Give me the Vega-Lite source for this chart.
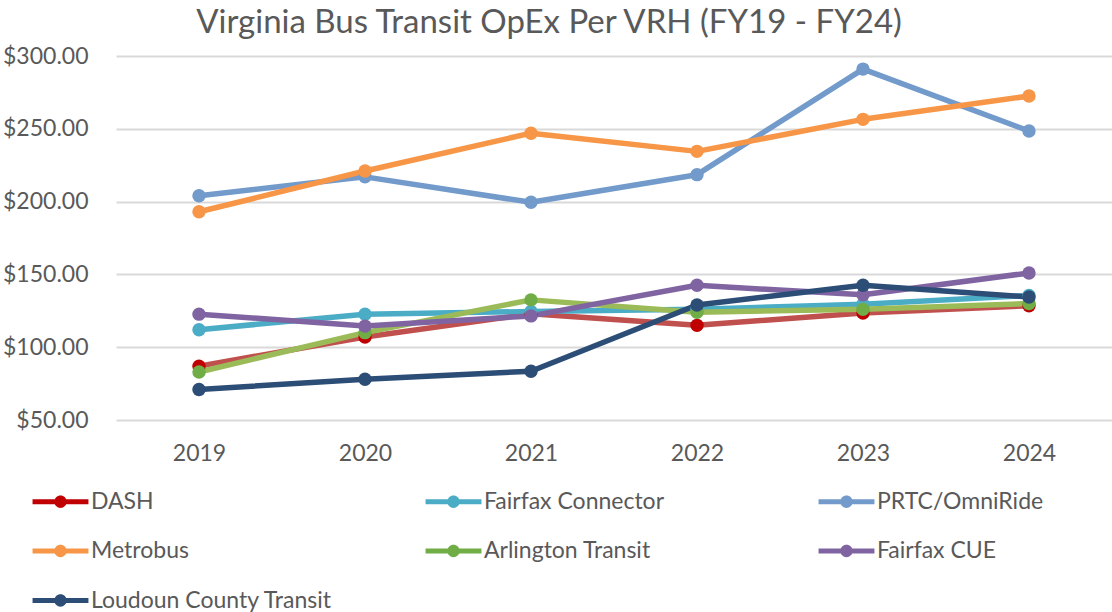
{
  "$schema": "https://vega.github.io/schema/vega-lite/v6.json",
  "autosize": "none",
  "width": 996,
  "height": 364,
  "padding": {"left": 116, "top": 56, "right": 0, "bottom": 192},
  "background": "white",
  "title": {
    "text": "Virginia Bus Transit OpEx Per VRH (FY19 - FY24)",
    "font": "Lato",
    "fontSize": 33,
    "fontWeight": "normal",
    "color": "#595959",
    "anchor": "middle",
    "dx": -65,
    "offset": 5
  },
  "config": {
    "view": {"stroke": null},
    "font": "Lato"
  },
  "data": {
    "values": [
      {"series": "DASH", "year": "2019", "value": 87},
      {"series": "DASH", "year": "2020", "value": 107},
      {"series": "DASH", "year": "2021", "value": 123},
      {"series": "DASH", "year": "2022", "value": 115},
      {"series": "DASH", "year": "2023", "value": 123.5},
      {"series": "DASH", "year": "2024", "value": 128.5},
      {"series": "Fairfax Connector", "year": "2019", "value": 112},
      {"series": "Fairfax Connector", "year": "2020", "value": 122.7},
      {"series": "Fairfax Connector", "year": "2021", "value": 124.5},
      {"series": "Fairfax Connector", "year": "2022", "value": 126},
      {"series": "Fairfax Connector", "year": "2023", "value": 129.5},
      {"series": "Fairfax Connector", "year": "2024", "value": 135.5},
      {"series": "PRTC/OmniRide", "year": "2019", "value": 204},
      {"series": "PRTC/OmniRide", "year": "2020", "value": 217},
      {"series": "PRTC/OmniRide", "year": "2021", "value": 199.5},
      {"series": "PRTC/OmniRide", "year": "2022", "value": 218.5},
      {"series": "PRTC/OmniRide", "year": "2023", "value": 291},
      {"series": "PRTC/OmniRide", "year": "2024", "value": 248.5},
      {"series": "Metrobus", "year": "2019", "value": 193},
      {"series": "Metrobus", "year": "2020", "value": 221},
      {"series": "Metrobus", "year": "2021", "value": 247},
      {"series": "Metrobus", "year": "2022", "value": 234.5},
      {"series": "Metrobus", "year": "2023", "value": 256.5},
      {"series": "Metrobus", "year": "2024", "value": 272.5},
      {"series": "Arlington Transit", "year": "2019", "value": 83},
      {"series": "Arlington Transit", "year": "2020", "value": 110},
      {"series": "Arlington Transit", "year": "2021", "value": 132.5},
      {"series": "Arlington Transit", "year": "2022", "value": 124},
      {"series": "Arlington Transit", "year": "2023", "value": 126},
      {"series": "Arlington Transit", "year": "2024", "value": 130},
      {"series": "Fairfax CUE", "year": "2019", "value": 122.7},
      {"series": "Fairfax CUE", "year": "2020", "value": 114.5},
      {"series": "Fairfax CUE", "year": "2021", "value": 121.5},
      {"series": "Fairfax CUE", "year": "2022", "value": 142.5},
      {"series": "Fairfax CUE", "year": "2023", "value": 136},
      {"series": "Fairfax CUE", "year": "2024", "value": 151},
      {"series": "Loudoun County Transit", "year": "2019", "value": 71},
      {"series": "Loudoun County Transit", "year": "2020", "value": 78},
      {"series": "Loudoun County Transit", "year": "2021", "value": 83.5},
      {"series": "Loudoun County Transit", "year": "2022", "value": 129},
      {"series": "Loudoun County Transit", "year": "2023", "value": 142.5},
      {"series": "Loudoun County Transit", "year": "2024", "value": 134.5}
    ]
  },
  "encoding": {
    "x": {
      "field": "year",
      "type": "ordinal",
      "scale": {"type": "point", "padding": 0.5},
      "axis": {
        "title": null,
        "labelAngle": 0,
        "domain": false,
        "ticks": false,
        "labelFontSize": 23,
        "labelColor": "#595959",
        "labelPadding": 22,
        "grid": false
      }
    },
    "y": {
      "field": "value",
      "type": "quantitative",
      "scale": {"domain": [50, 300], "nice": false, "zero": false},
      "axis": {
        "title": null,
        "values": [50, 100, 150, 200, 250, 300],
        "format": "$,.2f",
        "domain": false,
        "ticks": false,
        "labelFontSize": 23,
        "labelColor": "#595959",
        "labelPadding": 28,
        "gridColor": "#D9D9D9",
        "gridWidth": 2
      }
    }
  },
  "layer": [
    {
      "mark": {"type": "line", "strokeWidth": 5.5, "strokeCap": "round", "strokeJoin": "round"},
      "encoding": {
        "color": {
          "field": "series",
          "type": "nominal",
          "scale": {
            "domain": ["DASH", "Fairfax Connector", "PRTC/OmniRide", "Metrobus", "Arlington Transit", "Fairfax CUE", "Loudoun County Transit"],
            "range": ["#C0504D", "#4BACC6", "#729ACA", "#F79646", "#9BBB59", "#8064A2", "#2C4D75"]
          },
          "legend": null
        }
      }
    },
    {
      "mark": {"type": "point", "filled": true, "opacity": 1, "size": 180, "shape": "circle"},
      "encoding": {
        "color": {
          "field": "series",
          "type": "nominal",
          "scale": {
            "domain": ["DASH", "Fairfax Connector", "PRTC/OmniRide", "Metrobus", "Arlington Transit", "Fairfax CUE", "Loudoun County Transit"],
            "range": ["#C00000", "#4BACC6", "#729ACA", "#F79646", "#70AD47", "#8064A2", "#2C4D75"]
          },
          "legend": {
            "title": null,
            "orient": "none",
            "legendX": -67,
            "legendY": 434,
            "direction": "horizontal",
            "columns": 3,
            "gridAlign": "all",
            "columnPadding": 92,
            "rowPadding": 25.5,
            "labelFontSize": 23,
            "labelColor": "#595959",
            "labelOffset": 19,
            "labelLimit": 400,
            "symbolType": "M-2.5,-0.22 L-0.4,-0.22 L-0.4,0.22 L-2.5,0.22 Z M0.4,-0.22 L2.5,-0.22 L2.5,0.22 L0.4,0.22 Z M0.55,0 A0.55,0.55 0 1 1 -0.55,0 A0.55,0.55 0 1 1 0.55,0 Z",
            "symbolSize": 500,
            "symbolStrokeWidth": 0,
            "symbolOpacity": 1
          }
        }
      }
    }
  ],
  "resolve": {"scale": {"color": "independent"}, "legend": {"color": "independent"}}
}
